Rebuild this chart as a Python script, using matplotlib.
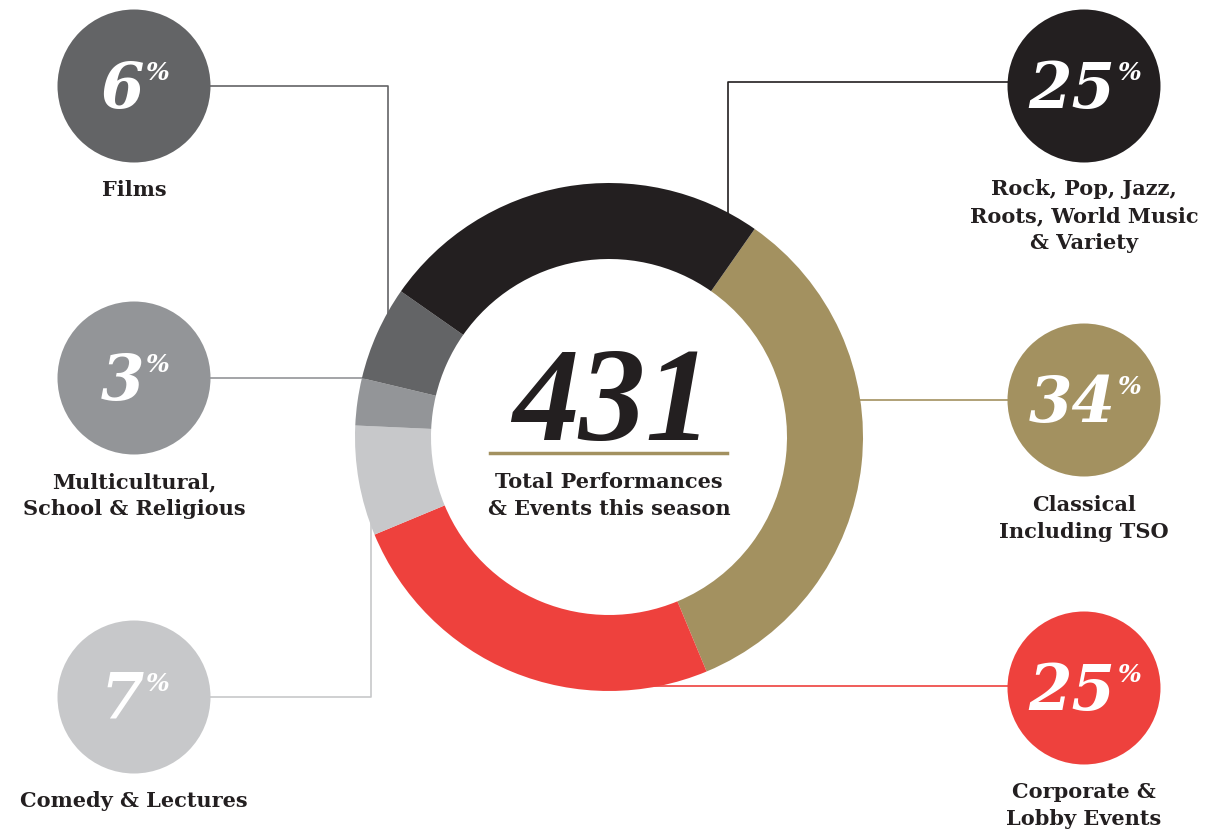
import matplotlib.pyplot as plt

# data, clockwise from the top right of the ring
shares = [34, 25, 7, 3, 6, 25]
share_labels = ['Classical\nIncluding TSO', 'Corporate &\nLobby Events', 'Comedy & Lectures',
                'Multicultural,\nSchool & Religious', 'Films',
                'Rock, Pop, Jazz,\nRoots, World Music\n& Variety']
colors = ['#a39160', '#ee413d', '#c7c8ca', '#939598', '#636466', '#231f20']
total_events = 431
center_text = 'Total Performances\n& Events this season'

W, H = 1225, 831
# bubble centres (pixels from top left) and connector paths
bubbles = [(1084, 400), (1084, 688), (134, 697), (134, 378), (134, 86), (1084, 86)]
connectors = [
    [(820, 400), (1010, 400)],
    [(620, 686), (1010, 686)],
    [(200, 697), (371, 697), (371, 500)],
    [(200, 378), (390, 378)],
    [(200, 86), (388, 86), (388, 330)],
    [(728, 240), (728, 82), (1010, 82)],
]
label_top = [495, 782, 791, 472, 180, 179]

serif = 'DejaVu Serif'
num_font = 'Liberation Serif'


def Y(y):
    return H - y


fig = plt.figure(figsize=(W / 100, H / 100), dpi=100)
ax = fig.add_axes([0, 0, 1, 1])

for path, c in zip(connectors, colors):
    xs = [p[0] for p in path]
    ys = [Y(p[1]) for p in path]
    ax.plot(xs, ys, color=c, lw=1.2, zorder=1, solid_capstyle='butt')

ax.pie(shares, colors=colors, startangle=55, counterclock=False,
       center=(609, Y(437)), radius=254,
       wedgeprops=dict(width=76, linewidth=0, zorder=2))

ax.set_xlim(0, W)
ax.set_ylim(0, H)
ax.set_aspect('equal')
ax.axis('off')

fig.canvas.draw()
renderer = fig.canvas.get_renderer()

for (cx, cy), c, val, lab, ly in zip(bubbles, colors, shares, share_labels, label_top):
    ax.add_patch(plt.Circle((cx, Y(cy)), 76.5, color=c, zorder=3, lw=0))
    num = ax.text(0, 0, str(val), fontsize=45, fontweight='bold', style='italic',
                  family=serif, color='white', ha='left', va='baseline', zorder=4)
    pct = ax.text(0, 0, '%', fontsize=18, fontweight='bold', style='italic',
                  family=serif, color='white', ha='left', va='baseline', zorder=4)
    wn = num.get_window_extent(renderer).width
    wp = pct.get_window_extent(renderer).width
    x0 = cx - (wn + wp) / 2
    num.set_position((x0, Y(cy + 22)))
    pct.set_position((x0 + wn + 2, Y(cy - 6)))
    ax.text(cx, Y(ly), lab, fontsize=15, fontweight='bold', family=serif,
            color='#231f20', ha='center', va='top', linespacing=1.45, zorder=4)

ax.text(612, Y(440), str(total_events), fontsize=96, fontweight='bold', style='italic',
        family=num_font, color='#231f20', ha='center', va='baseline', zorder=4)
ax.plot([490, 727], [Y(453), Y(453)], color='#a39160', lw=2.5, zorder=4)
ax.text(609, Y(472), center_text, fontsize=15, fontweight='bold', family=serif,
        color='#231f20', ha='center', va='top', linespacing=1.45, zorder=4)

fig.savefig('out.png', dpi=100)
